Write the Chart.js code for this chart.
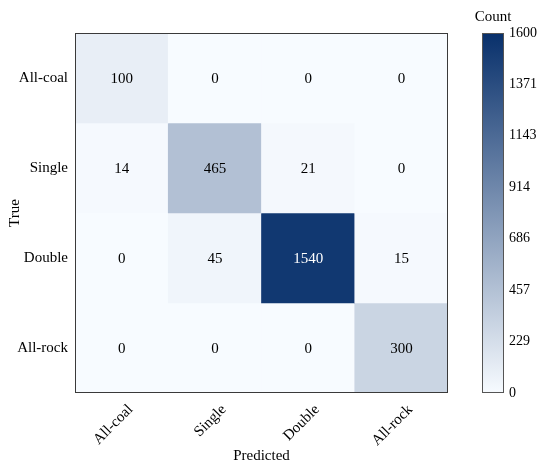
<!DOCTYPE html>
<html>
<head>
<meta charset="utf-8">
<script src="https://cdn.jsdelivr.net/npm/chart.js@4"></script>
<style>
  html, body { margin: 0; padding: 0; background: #fff; }
  #wrap { width: 550px; height: 470px; }
</style>
</head>
<body>
<div id="wrap"><canvas id="cm"></canvas></div>
<script>
// clases (filas = True, columnas = Predicted)
const predictedLabels = ["All-coal", "Single", "Double", "All-rock"];
const trueLabels = ["All-coal", "Single", "Double", "All-rock"];

// conteos por fila
const rowAllCoal = [100, 0, 0, 0];
const rowSingle = [14, 465, 21, 0];
const rowDouble = [0, 45, 1540, 15];
const rowAllRock = [0, 0, 0, 300];
const countRows = [rowAllCoal, rowSingle, rowDouble, rowAllRock];

// escala de color
const colorTicks = [0, 229, 457, 686, 914, 1143, 1371, 1600];
const countMax = 1600;

const FONT = "'Liberation Serif', 'Times New Roman', serif";
const low = [247, 251, 255];
const high = [8, 48, 107];

function colorFor(v) {
  const t = Math.max(0, Math.min(1, v / countMax));
  const c = low.map((l, i) => Math.round(l + (high[i] - l) * t));
  return `rgb(${c[0]},${c[1]},${c[2]})`;
}

// cada fila es un dataset apilado de celdas unitarias
const datasets = countRows.map((row, r) => ({
  label: trueLabels[r],
  data: row.map(() => 1),
  counts: row,
  backgroundColor: row.map(colorFor),
  borderWidth: 0,
  barPercentage: 1,
  categoryPercentage: 1,
}));

// numeros en las celdas, borde del area y barra de color
const matrixExtras = {
  id: "matrixExtras",
  afterDatasetsDraw(chart) {
    const ctx = chart.ctx;
    ctx.save();
    ctx.font = `15px ${FONT}`;
    ctx.textAlign = "center";
    ctx.textBaseline = "middle";
    chart.data.datasets.forEach((ds, di) => {
      chart.getDatasetMeta(di).data.forEach((bar, i) => {
        const v = ds.counts[i];
        const p = bar.getCenterPoint();
        ctx.fillStyle = v > countMax / 2 ? "#ffffff" : "#000000";
        ctx.fillText(String(v), p.x, p.y + 1);
      });
    });
    const a = chart.chartArea;
    ctx.strokeStyle = "#3a3a3a";
    ctx.lineWidth = 1;
    ctx.strokeRect(a.left + 0.5, a.top + 0.5, a.right - a.left - 1, a.bottom - a.top - 1);
    ctx.restore();
  },
  afterDraw(chart) {
    const s = chart.scales.y2;
    const ctx = chart.ctx;
    const x0 = s.left + 34;
    const w = 22;
    const yTop = s.getPixelForValue(countMax);
    const yBot = s.getPixelForValue(0);
    const g = ctx.createLinearGradient(0, yBot, 0, yTop);
    g.addColorStop(0, colorFor(0));
    g.addColorStop(1, colorFor(countMax));
    ctx.save();
    ctx.fillStyle = g;
    ctx.fillRect(x0, yTop, w, yBot - yTop);
    ctx.strokeStyle = "#555555";
    ctx.lineWidth = 1;
    ctx.strokeRect(x0 + 0.5, yTop + 0.5, w - 1, yBot - yTop - 1);
    ctx.fillStyle = "#000";
    ctx.font = `15px ${FONT}`;
    ctx.textAlign = "center";
    ctx.textBaseline = "alphabetic";
    ctx.fillText("Count", x0 + w / 2, yTop - 12);
    ctx.restore();
  },
};

new Chart(document.getElementById("cm"), {
  type: "bar",
  data: { labels: predictedLabels, datasets },
  options: {
    responsive: true,
    maintainAspectRatio: false,
    animation: false,
    layout: { padding: { top: 33, left: 0, right: 0, bottom: 0 } },
    plugins: { legend: { display: false }, tooltip: { enabled: false } },
    scales: {
      x: {
        stacked: true,
        grid: { display: false, drawTicks: false },
        border: { display: false },
        ticks: {
          color: "#000",
          font: { family: FONT, size: 15 },
          maxRotation: 45,
          minRotation: 45,
          padding: 8,
          labelOffset: 9,
        },
        title: {
          display: true,
          text: "Predicted",
          color: "#000",
          font: { family: FONT, size: 15 },
          padding: { top: 0, bottom: 5 },
        },
        afterFit(scale) { scale.height = 77; },
      },
      y: {
        stacked: true,
        reverse: true,
        min: 0,
        max: trueLabels.length,
        grid: { display: false, drawTicks: false },
        border: { display: false },
        afterBuildTicks(scale) {
          scale.ticks = trueLabels.map((_, i) => ({ value: i + 0.5 }));
        },
        ticks: {
          color: "#000",
          font: { family: FONT, size: 15 },
          padding: 7,
          callback: (v, i) => trueLabels[i],
        },
        title: {
          display: true,
          text: "True",
          color: "#000",
          font: { family: FONT, size: 15 },
          padding: { top: 6, bottom: 0 },
        },
        afterFit(scale) { scale.width = 75; },
      },
      y2: {
        position: "right",
        min: 0,
        max: countMax,
        grid: { display: false, drawTicks: false },
        border: { display: false },
        afterBuildTicks(scale) {
          scale.ticks = colorTicks.map((v) => ({ value: v }));
        },
        ticks: {
          color: "#000",
          font: { family: FONT, size: 14 },
          padding: 61,
          callback: (v) => String(v),
        },
        afterFit(scale) {
          scale.width = 102;
          // el padding grande de las etiquetas no debe empujar el area
          scale.paddingTop = 8;
          scale.paddingBottom = 8;
        },
      },
    },
  },
  plugins: [matrixExtras],
});
</script>
</body>
</html>
